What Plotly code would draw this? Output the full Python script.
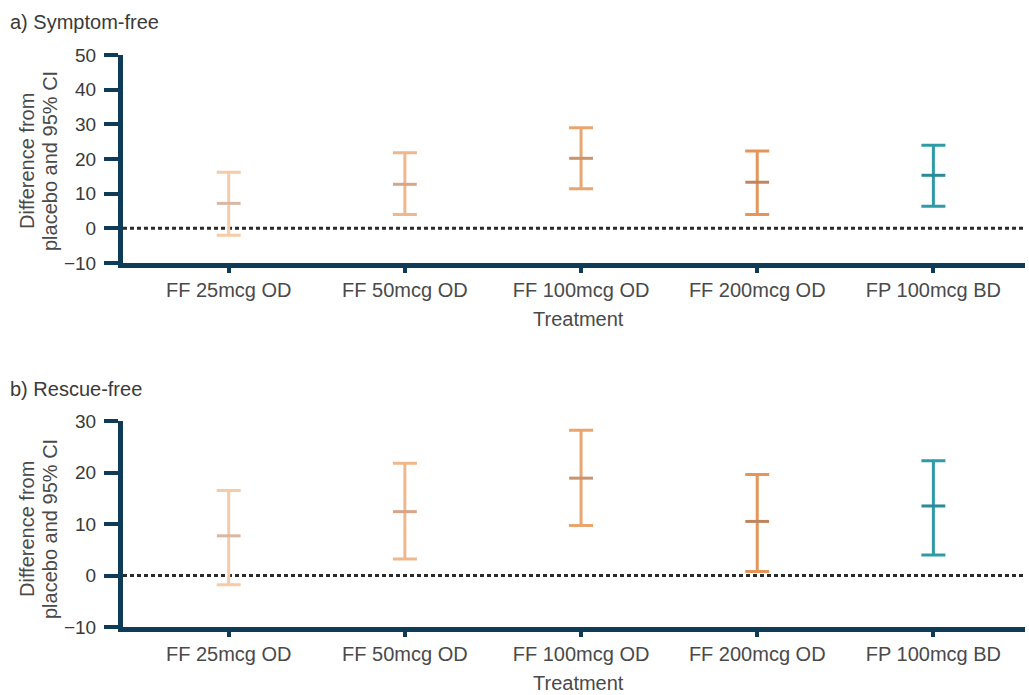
import plotly.graph_objects as go

# Treatment groups and colours
treatments = ["FF 25mcg OD", "FF 50mcg OD", "FF 100mcg OD", "FF 200mcg OD", "FP 100mcg BD"]
colors = ["#F6CBA8", "#EFB78B", "#E9A570", "#E3955A", "#2F9BA7"]
mean_colors = ["#D9B7A3", "#D5A688", "#C9936E", "#BF8560", "#2A8A95"]

# a) Symptom-free: difference from placebo with 95% CI
sf_mean = [7.2, 12.7, 20.2, 13.3, 15.3]
sf_low = [-2.0, 4.0, 11.4, 4.0, 6.4]
sf_high = [16.2, 21.8, 29.0, 22.3, 24.0]

# b) Rescue-free: difference from placebo with 95% CI
rf_mean = [7.7, 12.4, 18.9, 10.5, 13.5]
rf_low = [-1.8, 3.2, 9.7, 0.8, 4.0]
rf_high = [16.5, 21.8, 28.2, 19.6, 22.3]

W, H = 1029, 695
ML, MR = 123, 4
AXIS = "#0E3B58"
TXT = "#3A3A3A"
LBL = "#4A4A4A"
FONT = "Liberation Sans, Arial, sans-serif"


def ydom(top_px, bottom_px):
    return [1 - bottom_px / H, 1 - top_px / H]


def px_x(xpx):
    return (xpx - ML) / (W - ML - MR)


def px_y(ypx):
    return 1 - ypx / H


fig = go.Figure()

panels = [
    ("", "y", sf_mean, sf_low, sf_high),
    ("2", "y2", rf_mean, rf_low, rf_high),
]
for suffix, yref, mean, low, high in panels:
    for i, t in enumerate(treatments):
        fig.add_trace(go.Scatter(
            x=[i], y=[mean[i]],
            xaxis="x" + suffix, yaxis=yref,
            mode="markers",
            marker=dict(symbol="line-ew", size=17, color=colors[i],
                        line=dict(width=3, color=mean_colors[i])),
            error_y=dict(type="data", symmetric=False,
                         array=[high[i] - mean[i]],
                         arrayminus=[mean[i] - low[i]],
                         color=colors[i], thickness=3, width=12),
            showlegend=False, hoverinfo="skip",
        ))

xcommon = dict(
    range=[-0.6, 4.52], domain=[0, 1], automargin=False,
    tickmode="array", tickvals=list(range(len(treatments))), ticktext=treatments,
    showline=True, linecolor=AXIS, linewidth=5,
    ticks="outside", ticklen=5, tickwidth=4, tickcolor=AXIS,
    showgrid=False, zeroline=False,
    tickfont=dict(family=FONT, size=20, color=LBL),
    ticklabelstandoff=0,
)
ycommon = dict(
    showline=True, linecolor=AXIS, linewidth=5, automargin=False,
    ticks="outside", ticklen=14, tickwidth=4, tickcolor=AXIS,
    showgrid=False, zeroline=False,
    tickfont=dict(family=FONT, size=19, color=TXT),
    ticklabelstandoff=4,
)

fig.update_layout(
    width=W, height=H,
    margin=dict(l=ML, r=MR, t=0, b=0, autoexpand=False),
    paper_bgcolor="white", plot_bgcolor="white",
    font=dict(family=FONT, color=TXT),
    xaxis=dict(**xcommon, anchor="y"),
    xaxis2=dict(**xcommon, anchor="y2"),
    yaxis=dict(**ycommon, range=[-10, 50], tickvals=[-10, 0, 10, 20, 30, 40, 50],
               ticktext=["\u221210", "0", "10", "20", "30", "40", "50"],
               domain=ydom(55, 263), anchor="x"),
    yaxis2=dict(**ycommon, range=[-10, 30], tickvals=[-10, 0, 10, 20, 30],
                ticktext=["\u221210", "0", "10", "20", "30"],
                domain=ydom(421, 627), anchor="x2"),
)

# Zero reference lines
for xr, yr in [("x", "y"), ("x2", "y2")]:
    fig.add_shape(type="line", xref=xr + " domain", yref=yr,
                  x0=0, x1=1, y0=0, y1=0,
                  line=dict(color="#2B2B2B", width=3, dash="4px,3px"), layer="below")

# Panel titles
for text, ypx in [("a) Symptom-free", 22), ("b) Rescue-free", 389)]:
    fig.add_annotation(text=text, xref="paper", yref="paper",
                       x=px_x(8), y=px_y(ypx),
                       xanchor="left", yanchor="middle", showarrow=False,
                       font=dict(family=FONT, size=20, color=TXT))

# X-axis titles
for ypx in [319, 683]:
    fig.add_annotation(text="Treatment", xref="paper", yref="paper",
                       x=px_x(578), y=px_y(ypx),
                       xanchor="center", yanchor="middle", showarrow=False,
                       font=dict(family=FONT, size=20, color=LBL))

# Y-axis titles (two lines each)
for ypx in [161, 529]:
    for text, xpx in [("Difference from", 27), ("placebo and 95% CI", 50)]:
        fig.add_annotation(text=text, xref="paper", yref="paper",
                           x=px_x(xpx), y=px_y(ypx),
                           xanchor="center", yanchor="middle", textangle=-90,
                           showarrow=False,
                           font=dict(family=FONT, size=20, color=LBL))

fig.write_html("out.html")
